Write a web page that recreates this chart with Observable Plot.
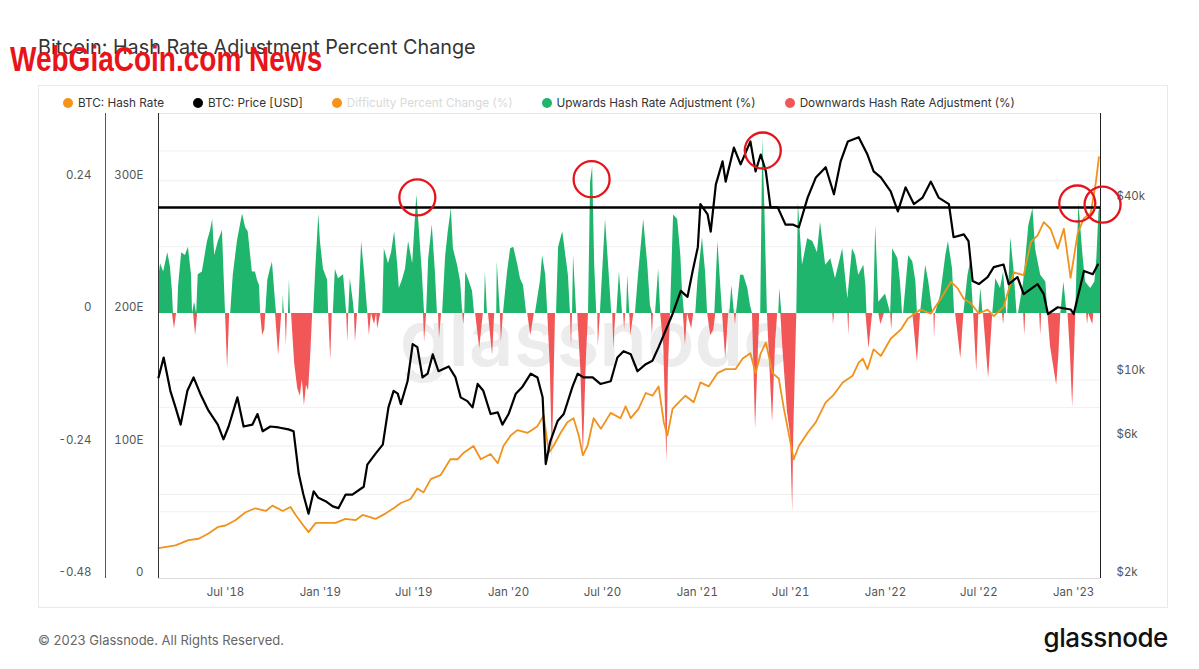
<!DOCTYPE html>
<html><head><meta charset="utf-8">
<script src="https://cdn.jsdelivr.net/npm/d3@7"></script>
<script src="https://cdn.jsdelivr.net/npm/@observablehq/plot@0.6"></script>
<style>
body{margin:0;background:#fff;font-family:Inter,"Noto Sans",sans-serif;}
#page{position:relative;width:1199px;height:669px;overflow:hidden;background:#fff;}
#card{position:absolute;left:38px;top:85px;width:1130px;height:523px;border:1px solid #e9e9e9;box-sizing:border-box;}
#title{position:absolute;left:38px;top:35px;font-size:19.8px;color:#333;white-space:nowrap;}
#stamp{position:absolute;left:10px;top:39px;font-family:"Liberation Sans","DejaVu Sans",sans-serif;font-weight:700;font-size:35px;color:#e8141a;white-space:nowrap;transform:scaleX(0.8);transform-origin:0 0;}
#legend{position:absolute;left:63px;top:96px;display:flex;gap:29px;font-size:11.75px;color:#333;white-space:nowrap;}
#legend .it{display:flex;align-items:center;gap:5px;}
#legend .dot{width:10px;height:10px;border-radius:50%;display:inline-block;}
#layers{position:absolute;left:0;top:0;width:1199px;height:669px;}
#layers svg{position:absolute;left:0;top:0;}
#copy{position:absolute;left:38px;top:632px;font-size:13px;color:#666;white-space:nowrap;}
#logo{position:absolute;right:31px;top:622px;font-size:26px;font-weight:500;color:#111;letter-spacing:-0.4px;}
</style></head><body>
<div id="page">
  <div id="card"></div>
  <div id="layers"></div>
  <div id="title">Bitcoin: Hash Rate Adjustment Percent Change</div>
  <div id="stamp">WebGiaCoin.com News</div>
  <div id="legend"></div>
  <div id="copy">© 2023 Glassnode. All Rights Reserved.</div>
  <div id="logo">glassnode</div>
</div>
<script>
// ---------- legend ----------
const legendLabels = ["BTC: Hash Rate","BTC: Price [USD]","Difficulty Percent Change (%)","Upwards Hash Rate Adjustment (%)","Downwards Hash Rate Adjustment (%)"];
const legendColors = ["#f7931a","#000000","#f7931a","#1fb56c","#f25757"];
const legendTextColors = ["#333","#333","#d9d9d9","#333","#333"];

// ---------- axes ----------
const xTicks = ["2018-07-01","2019-01-01","2019-07-01","2020-01-01","2020-07-01","2021-01-01","2021-07-01","2022-01-01","2022-07-01","2023-01-01"];
const pctTicks = [0.24, 0, -0.24, -0.48];
const hashTicks = [300, 200, 100, 0];
const priceTicks = [40000, 10000, 6000, 2000];
const pctGrid = [0.24, -0.24];
const priceGrid = [60000, 28000, 9700, 7800, 3900, 3400];

// ---------- annotations ----------
const thresholdPct = [0.192];
const circleMarks = [["2019-07-08",0.21],["2020-06-10",0.243],["2021-05-08",0.295],["2023-01-08",0.199],["2023-02-26",0.197]];

// ---------- BTC price [USD] ----------
const priceSeries = [
["2018-02-21",9900],["2018-03-03",11600],["2018-03-16",8900],["2018-03-26",7800],["2018-04-05",6800],["2018-04-18",8900],["2018-04-30",9900],["2018-05-13",8700],["2018-05-29",7600],["2018-06-16",6800],["2018-06-27",6050],
["2018-07-07",6700],["2018-07-24",8450],["2018-08-05",6700],["2018-08-22",6800],["2018-09-01",7400],["2018-09-11",6450],["2018-09-26",6700],["2018-10-12",6650],["2018-10-31",6550],["2018-11-10",6450],["2018-11-20",4600],["2018-11-29",3900],["2018-12-09",3350],["2018-12-19",4000],["2018-12-28",3800],
["2019-01-11",3700],["2019-01-25",3550],["2019-02-05",3500],["2019-02-19",3900],["2019-03-04",3900],["2019-03-26",4150],["2019-04-02",4950],["2019-04-18",5400],["2019-05-02",5800],["2019-05-13",7800],["2019-05-23",8900],["2019-05-31",8700],["2019-06-06",8000],["2019-06-19",9600],["2019-06-29",12900],
["2019-07-08",12600],["2019-07-18",9900],["2019-07-28",10200],["2019-08-07",11900],["2019-08-18",10400],["2019-09-07",10800],["2019-09-20",9900],["2019-09-30",8450],["2019-10-13",8200],["2019-10-23",7800],["2019-11-02",9400],["2019-11-13",8900],["2019-11-27",7400],["2019-12-11",7500],["2019-12-20",6800],
["2020-01-01",7400],["2020-01-15",8700],["2020-01-28",9200],["2020-02-13",10200],["2020-02-26",9900],["2020-03-07",8450],["2020-03-13",4970],["2020-03-22",5970],["2020-04-05",7000],["2020-04-17",7400],["2020-05-04",9200],["2020-05-14",10200],["2020-05-25",9900],["2020-06-12",9900],["2020-06-27",9400],
["2020-07-17",9600],["2020-07-30",11600],["2020-08-11",12200],["2020-08-25",11900],["2020-09-07",10400],["2020-09-23",11000],["2020-10-06",11300],["2020-10-18",12600],["2020-11-14",16400],["2020-11-30",19700],["2020-12-13",18800],["2020-12-23",23100],
["2021-01-02",27900],["2021-01-07",39300],["2021-01-21",36200],["2021-01-27",31600],["2021-02-06",46000],["2021-02-19",55200],["2021-02-25",47000],["2021-03-13",61600],["2021-03-26",53900],["2021-04-14",64700],["2021-04-24",51000],["2021-05-04",58300],["2021-05-14",51000],["2021-05-23",38300],["2021-06-06",38300],["2021-06-21",33400],
["2021-07-05",33400],["2021-07-17",32700],["2021-08-03",41400],["2021-08-19",48600],["2021-09-07",52700],["2021-09-23",42500],["2021-10-06",55200],["2021-10-20",64700],["2021-11-10",66900],["2021-11-27",58300],["2021-12-09",51000],["2021-12-23",48600],
["2022-01-11",43500],["2022-01-25",37100],["2022-02-09",44900],["2022-02-25",39300],["2022-03-14",41400],["2022-03-30",47000],["2022-04-14",41400],["2022-05-04",39300],["2022-05-13",30200],["2022-06-02",30900],["2022-06-11",29300],["2022-06-19",21300],
["2022-07-01",20800],["2022-07-18",22000],["2022-07-30",23800],["2022-08-18",24300],["2022-08-28",20800],["2022-09-14",22000],["2022-09-26",19200],["2022-10-23",20800],["2022-11-04",19200],["2022-11-12",16400],["2022-12-01",17300],["2022-12-26",17000],
["2023-01-01",16400],["2023-01-21",23100],["2023-02-07",22500],["2023-02-17",24300]
];

// ---------- BTC hash rate [EH/s] ----------
const hashSeries = [
["2018-02-21",23],["2018-03-26",25],["2018-04-20",29],["2018-05-10",30],["2018-05-29",34],["2018-06-17",39],["2018-07-01",40],["2018-07-20",44],["2018-08-09",50],["2018-08-28",53],["2018-09-17",51],["2018-09-30",55],["2018-10-20",51],["2018-11-04",54],["2018-11-14",48],["2018-11-29",40],["2018-12-09",35],["2018-12-23",42],
["2019-01-11",42],["2019-01-30",42],["2019-02-19",45],["2019-03-10",44],["2019-03-24",48],["2019-04-18",45],["2019-05-07",49],["2019-05-23",53],["2019-06-06",57],["2019-06-25",60],["2019-07-08",68],["2019-07-20",65],["2019-08-03",75],["2019-08-22",78],["2019-09-10",90],["2019-09-24",90],["2019-10-06",95],["2019-10-25",100],["2019-11-08",90],["2019-11-27",94],["2019-12-11",87],["2019-12-22",100],
["2020-01-05",108],["2020-01-18",112],["2020-02-07",110],["2020-02-26",115],["2020-03-09",123],["2020-03-19",95],["2020-03-28",100],["2020-04-11",110],["2020-04-24",118],["2020-05-06",121],["2020-05-16",108],["2020-05-24",93],["2020-06-02",100],["2020-06-14",121],["2020-06-28",113],["2020-07-17",125],["2020-08-05",121],["2020-08-15",130],["2020-08-25",121],["2020-09-09",128],["2020-09-23",140],["2020-10-06",138],["2020-10-18",145],["2020-10-28",118],["2020-11-04",108],["2020-11-14",128],["2020-11-26",133],["2020-12-09",138],["2020-12-25",133],
["2021-01-07",148],["2021-01-23",145],["2021-02-09",155],["2021-02-25",158],["2021-03-16",158],["2021-03-30",166],["2021-04-14",170],["2021-04-24",155],["2021-05-04",170],["2021-05-14",178],["2021-05-27",155],["2021-06-08",151],["2021-06-18",128],["2021-07-01",102],["2021-07-07",90],["2021-07-17",100],["2021-08-03",110],["2021-08-19",118],["2021-09-07",133],["2021-09-21",138],["2021-10-10",148],["2021-10-29",153],["2021-11-10",163],["2021-11-18",166],["2021-11-27",158],["2021-12-09",173],["2021-12-23",168],
["2022-01-11",181],["2022-01-31",188],["2022-02-13",196],["2022-03-10",203],["2022-03-30",200],["2022-04-18",211],["2022-05-08",224],["2022-05-21",219],["2022-06-02",211],["2022-06-15",208],["2022-07-01",200],["2022-07-18",203],["2022-07-30",198],["2022-08-18",205],["2022-09-07",231],["2022-09-26",229],["2022-10-10",254],["2022-10-23",259],["2022-11-04",269],["2022-11-17",264],["2022-12-01",249],["2022-12-13",264],["2022-12-26",227],
["2023-01-09",261],["2023-01-21",272],["2023-02-03",276],["2023-02-13",299],["2023-02-19",318]
];

// ---------- Upwards hash rate adjustment (%) ----------
const upAdj = [
["2018-02-21",0.06],["2018-02-25",0.09],["2018-03-03",0.075],["2018-03-11",0.11],["2018-03-16",0.085],["2018-03-20",0.04],["2018-03-22",0],
["2018-03-30",0],["2018-04-01",0.05],["2018-04-07",0.11],["2018-04-14",0.105],["2018-04-20",0.12],["2018-04-26",0.07],["2018-04-28",0],
["2018-05-02",0.02],["2018-05-06",0],
["2018-05-09",0.07],["2018-05-17",0.075],["2018-05-27",0.13],["2018-06-02",0.15],["2018-06-06",0.17],["2018-06-10",0.105],["2018-06-17",0.13],["2018-06-25",0.15],["2018-06-27",0.1],["2018-07-01",0],
["2018-07-11",0],["2018-07-16",0.069],["2018-07-24",0.13],["2018-07-30",0.16],["2018-08-03",0.18],["2018-08-09",0.155],["2018-08-14",0.148],["2018-08-22",0.075],["2018-08-28",0.075],["2018-09-01",0.06],["2018-09-05",0.05],["2018-09-07",0],
["2018-09-17",0],["2018-09-21",0.06],["2018-09-26",0.08],["2018-09-30",0.093],["2018-10-06",0.02],["2018-10-08",0],
["2018-10-20",0],["2018-10-21",0.033],["2018-10-23",0],
["2018-10-31",0],["2018-11-02",0.063],["2018-11-04",0],
["2018-12-19",0],["2018-12-23",0.08],["2018-12-29",0.18],["2019-01-01",0.13],["2019-01-07",0.08],["2019-01-15",0.06],["2019-01-17",0],
["2019-01-26",0],["2019-01-30",0.08],["2019-02-05",0.063],["2019-02-15",0.07],["2019-02-21",0],
["2019-02-25",0],["2019-02-28",0.063],["2019-03-06",0.02],["2019-03-08",0],
["2019-03-16",0],["2019-03-22",0.13],["2019-03-28",0.07],["2019-04-03",0],
["2019-05-02",0],["2019-05-05",0.117],["2019-05-13",0.09],["2019-05-19",0.11],["2019-05-25",0.148],["2019-05-31",0.087],["2019-06-03",0.045],["2019-06-09",0.06],["2019-06-15",0.08],["2019-06-21",0.13],["2019-06-29",0.09],["2019-07-07",0.214],["2019-07-10",0.178],["2019-07-18",0.069],["2019-07-22",0],
["2019-07-26",0],["2019-07-30",0.099],["2019-08-06",0.16],["2019-08-12",0.075],["2019-08-16",0],
["2019-08-26",0],["2019-09-01",0.105],["2019-09-06",0.148],["2019-09-12",0.19],["2019-09-16",0.117],["2019-09-24",0.087],["2019-09-30",0.057],["2019-10-04",0],
["2019-10-08",0],["2019-10-10",0.075],["2019-10-15",0.063],["2019-10-23",0.04],["2019-10-27",0],
["2019-11-15",0],["2019-11-17",0.075],["2019-11-21",0],
["2019-12-09",0],["2019-12-10",0.093],["2019-12-16",0],
["2019-12-22",0],["2019-12-30",0.075],["2020-01-05",0.117],["2020-01-11",0.12],["2020-01-19",0.087],["2020-01-24",0.063],["2020-01-30",0.05],["2020-02-05",0],
["2020-02-22",0],["2020-03-03",0.06],["2020-03-07",0.105],["2020-03-13",0.069],["2020-03-17",0],
["2020-04-03",0],["2020-04-07",0.12],["2020-04-15",0.148],["2020-04-21",0.105],["2020-04-26",0.069],["2020-04-30",0],
["2020-05-04",0],["2020-05-06",0.105],["2020-05-12",0],
["2020-06-04",0],["2020-06-08",0.237],["2020-06-12",0.265],["2020-06-16",0.087],["2020-06-20",0],
["2020-06-27",0],["2020-07-07",0.17],["2020-07-13",0.087],["2020-07-19",0],
["2020-07-29",0],["2020-08-03",0.075],["2020-08-09",0],
["2020-08-17",0],["2020-08-19",0.069],["2020-08-23",0],
["2020-09-03",0],["2020-09-09",0.069],["2020-09-19",0.17],["2020-09-27",0.087],["2020-10-02",0.015],["2020-10-06",0],
["2020-10-12",0],["2020-10-18",0.081],["2020-10-22",0],
["2020-11-10",0],["2020-11-16",0.178],["2020-11-24",0.17],["2020-11-30",0.105],["2020-12-03",0.045],["2020-12-07",0],
["2020-12-29",0],["2021-01-02",0.057],["2021-01-11",0.137],["2021-01-17",0.075],["2021-01-21",0],
["2021-02-04",0],["2021-02-10",0.13],["2021-02-15",0.057],["2021-02-19",0],
["2021-03-05",0],["2021-03-09",0.05],["2021-03-14",0],
["2021-03-18",0],["2021-03-26",0.069],["2021-04-01",0.069],["2021-04-09",0.045],["2021-04-14",0.015],["2021-04-18",0],
["2021-05-04",0],["2021-05-08",0.317],["2021-05-12",0.19],["2021-05-17",0],
["2021-06-08",0],["2021-06-10",0.045],["2021-06-14",0],
["2021-07-13",0],["2021-07-16",0.2],["2021-07-24",0.087],["2021-08-03",0.135],["2021-08-13",0.13],["2021-08-22",0.11],["2021-08-28",0.165],["2021-09-07",0.087],["2021-09-17",0.099],["2021-09-26",0.063],["2021-10-10",0.117],["2021-10-20",0.026],["2021-10-29",0.117],["2021-11-04",0.105],["2021-11-10",0.069],["2021-11-20",0.087],["2021-11-24",0.05],["2021-11-26",0],
["2021-12-09",0],["2021-12-13",0.159],["2021-12-19",0.02],["2022-01-01",0.035],["2022-01-11",0],
["2022-01-15",0.117],["2022-01-25",0.099],["2022-01-30",0.057],["2022-02-03",0],
["2022-02-05",0],["2022-02-15",0.105],["2022-02-23",0.093],["2022-03-01",0.057],["2022-03-04",0],
["2022-03-10",0],["2022-03-20",0.087],["2022-03-26",0.057],["2022-04-03",0],
["2022-04-08",0],["2022-04-18",0.033],["2022-04-28",0.105],["2022-05-03",0.13],["2022-05-11",0.081],["2022-05-15",0],
["2022-06-02",0],["2022-06-10",0.069],["2022-06-15",0.093],["2022-06-21",0],
["2022-07-01",0],["2022-07-05",0.045],["2022-07-09",0],
["2022-07-28",0],["2022-08-03",0.063],["2022-08-12",0.045],["2022-08-18",0.075],["2022-08-24",0],
["2022-08-26",0],["2022-09-01",0.137],["2022-09-07",0.081],["2022-09-13",0],
["2022-09-16",0],["2022-09-26",0.057],["2022-10-06",0.159],["2022-10-14",0.19],["2022-10-19",0.117],["2022-10-29",0.069],["2022-11-08",0.057],["2022-11-12",0],
["2022-12-07",0],["2022-12-13",0.057],["2022-12-19",0],
["2023-01-05",0],["2023-01-11",0.2],["2023-01-19",0.105],["2023-01-24",0.057],["2023-02-03",0.045],["2023-02-11",0.057],["2023-02-15",0.1],["2023-02-19",0.183],["2023-02-22",0.196]
];

// ---------- Downwards hash rate adjustment (%) ----------
const downAdj = [
["2018-03-20",0],["2018-03-24",-0.028],["2018-03-28",0],
["2018-04-30",0],["2018-05-04",-0.04],["2018-05-08",0],
["2018-07-01",0],["2018-07-05",-0.10],["2018-07-09",0],
["2018-09-07",0],["2018-09-11",-0.04],["2018-09-15",-0.03],["2018-09-17",0],
["2018-10-06",0],["2018-10-12",-0.076],["2018-10-18",0],
["2018-10-25",0],["2018-10-27",-0.058],["2018-10-29",0],
["2018-11-06",0],["2018-11-12",-0.09],["2018-11-18",-0.136],["2018-11-23",-0.15],["2018-11-27",-0.12],["2018-12-01",-0.167],["2018-12-05",-0.13],["2018-12-09",-0.14],["2018-12-13",-0.08],["2018-12-17",0],
["2019-01-17",0],["2019-01-21",-0.085],["2019-01-24",0],
["2019-02-21",0],["2019-02-23",-0.052],["2019-02-25",0],
["2019-03-08",0],["2019-03-10",-0.052],["2019-03-14",0],
["2019-04-03",0],["2019-04-06",-0.04],["2019-04-10",0],["2019-04-16",-0.02],["2019-04-20",0],["2019-04-22",-0.028],["2019-04-28",0],
["2019-07-20",0],["2019-07-22",-0.052],["2019-07-26",0],
["2019-08-18",0],["2019-08-20",-0.046],["2019-08-24",0],
["2019-10-04",0],["2019-10-06",-0.02],["2019-10-08",0],
["2019-10-29",0],["2019-11-06",-0.064],["2019-11-13",0],
["2019-11-23",0],["2019-12-01",-0.076],["2019-12-05",0],
["2019-12-16",0],["2019-12-18",-0.052],["2019-12-22",0],
["2020-02-07",0],["2020-02-13",-0.04],["2020-02-20",0],
["2020-03-17",0],["2020-03-22",-0.10],["2020-03-26",-0.263],["2020-04-01",0],
["2020-04-30",0],["2020-05-02",-0.06],["2020-05-04",0],
["2020-05-14",0],["2020-05-20",-0.10],["2020-05-25",-0.258],["2020-05-31",-0.08],["2020-06-04",0],
["2020-06-22",0],["2020-06-23",-0.06],["2020-06-27",0],
["2020-07-21",0],["2020-07-23",-0.064],["2020-07-27",0],
["2020-08-11",0],["2020-08-13",-0.03],["2020-08-15",0],
["2020-08-23",0],["2020-08-25",-0.04],["2020-08-31",0],
["2020-10-04",0],["2020-10-06",-0.04],["2020-10-08",0],
["2020-10-22",0],["2020-10-28",-0.06],["2020-11-03",-0.27],["2020-11-06",-0.10],["2020-11-10",0],
["2020-12-05",0],["2020-12-09",-0.058],["2020-12-13",0],["2020-12-21",-0.028],["2020-12-25",0],
["2021-01-21",0],["2021-01-27",-0.04],["2021-02-02",-0.03],["2021-02-06",0],
["2021-02-19",0],["2021-02-25",-0.082],["2021-03-03",0],
["2021-03-14",0],["2021-03-16",-0.02],["2021-03-18",0],
["2021-04-18",0],["2021-04-24",-0.209],["2021-05-02",0],
["2021-05-17",0],["2021-05-23",-0.12],["2021-05-27",-0.197],["2021-06-02",-0.05],["2021-06-06",0],
["2021-06-12",0],["2021-06-16",-0.064],["2021-06-25",-0.18],["2021-07-01",-0.22],["2021-07-05",-0.36],["2021-07-07",-0.22],["2021-07-13",0],
["2021-09-21",0],["2021-09-22",-0.02],["2021-09-24",0],
["2021-10-20",0],["2021-10-22",-0.04],["2021-10-23",0],
["2021-11-24",0],["2021-11-30",-0.064],["2021-12-07",0],
["2021-12-19",0],["2021-12-23",-0.02],["2021-12-30",0],
["2022-01-11",0],["2022-01-13",-0.03],["2022-01-15",0],
["2022-02-23",0],["2022-03-04",-0.088],["2022-03-10",0],
["2022-04-05",0],["2022-04-06",-0.046],["2022-04-08",0],
["2022-05-17",0],["2022-05-27",-0.082],["2022-06-02",0],
["2022-06-21",0],["2022-06-27",-0.106],["2022-07-01",0],
["2022-07-10",0],["2022-07-20",-0.118],["2022-07-28",0],
["2022-08-16",0],["2022-08-18",-0.02],["2022-08-20",0],
["2022-09-26",0],["2022-09-28",-0.04],["2022-09-30",0],
["2022-10-27",0],["2022-10-29",-0.04],["2022-10-31",0],
["2022-11-12",0],["2022-11-17",-0.06],["2022-11-29",-0.13],["2022-12-03",-0.08],["2022-12-07",0],
["2022-12-21",0],["2022-12-26",-0.08],["2022-12-30",-0.17],["2023-01-03",-0.06],["2023-01-05",0],
["2023-01-26",0],["2023-01-28",-0.02],["2023-01-30",0],["2023-02-07",-0.02],["2023-02-09",0]
];

// ---------- build ----------
const legend = document.getElementById("legend");
legendLabels.forEach((lab, i) => {
  const it = document.createElement("div"); it.className = "it";
  const dot = document.createElement("span"); dot.className = "dot"; dot.style.background = legendColors[i];
  const t = document.createElement("span"); t.textContent = lab; t.style.color = legendTextColors[i];
  it.append(dot, t); legend.append(it);
});

const toRows = arr => arr.map(([d, v]) => ({date: new Date(d), v}));
const price = toRows(priceSeries), hash = toRows(hashSeries), up = toRows(upAdj), down = toRows(downAdj);
const circles = toRows(circleMarks);
const xDomain = [new Date("2018-02-21"), new Date("2023-02-22")];
const pctDomain = [-0.48, 0.362];
const hashDomain = [0, 351];
const priceDomain = [2000, 80800];
const fmtX = d3.utcFormat("%b '%y");

const base = {
  width: 1199, height: 669, marginTop: 113, marginBottom: 91, marginLeft: 158, marginRight: 99,
  style: {background: "transparent", fontFamily: "Inter, 'Noto Sans', sans-serif", fontSize: "11.5px", color: "#555", overflow: "visible"}
};
const xOpt = {type: "utc", domain: xDomain, axis: null};

// layer 0: grid + watermark + x axis
const L0 = Plot.plot({...base, x: xOpt, y: {domain: pctDomain, axis: null}, marks: [
  Plot.ruleY(pctGrid, {stroke: "#eeeeee"}),
  Plot.ruleY([pctDomain[1]], {stroke: "#e8e8e8"}),
  Plot.ruleY([pctDomain[0]], {stroke: "#dcdcdc"}),
  Plot.text(["glassnode"], {text: d => d, frameAnchor: "middle", dx: -35, dy: -5, fontSize: 78, fontWeight: 600, fill: "#ececec"}),
  Plot.axisX(xTicks.map(d => new Date(d)), {tickSize: 0, tickPadding: 9, tickFormat: fmtX, color: "#555", label: null})
]});

// layer 1: price grid
const L1 = Plot.plot({...base, x: xOpt, y: {type: "log", domain: priceDomain, axis: null}, marks: [
  Plot.ruleY(priceGrid, {stroke: "#f0f0f0"})
]});

// layer 2: adjustment areas + percent axis
const L2 = Plot.plot({...base, x: xOpt, y: {domain: pctDomain, axis: null}, marks: [
  Plot.areaY(up, {x: "date", y: "v", fill: "#1fb56c"}),
  Plot.areaY(down, {x: "date", y: "v", fill: "#f25757"}),
  Plot.ruleX([xDomain[0]], {dx: -53, stroke: "#555"}),
  Plot.axisY(pctTicks, {anchor: "left", tickSize: 0, tickPadding: 14, dx: -53, dy: -6, color: "#555", label: null,
    tickFormat: d => d === 0 ? "0" : String(d)})
]});

// layer 3: hash rate
const L3 = Plot.plot({...base, x: xOpt, y: {domain: hashDomain, axis: null}, marks: [
  Plot.line(hash, {x: "date", y: "v", stroke: "#f0921c", strokeWidth: 1.8}),
  Plot.ruleX([xDomain[0]], {stroke: "#333"}),
  Plot.axisY(hashTicks, {anchor: "left", tickSize: 0, tickPadding: 15, dy: -6, color: "#555", label: null,
    tickFormat: d => d === 0 ? "0" : d + "E"})
]});

// layer 4: price
const L4 = Plot.plot({...base, x: xOpt, y: {type: "log", domain: priceDomain, axis: null}, marks: [
  Plot.line(price, {x: "date", y: "v", stroke: "#000", strokeWidth: 2.2}),
  Plot.ruleX([xDomain[1]], {stroke: "#222"}),
  Plot.axisY(priceTicks, {anchor: "right", tickSize: 0, tickPadding: 16, dy: -6, color: "#555", label: null,
    tickFormat: d => "$" + (d / 1000) + "k"})
]});

// layer 5: annotations
const L5 = Plot.plot({...base, x: xOpt, y: {domain: pctDomain, axis: null}, marks: [
  Plot.ruleY(thresholdPct, {stroke: "#000", strokeWidth: 2.5}),
  Plot.dot(circles, {x: "date", y: "v", r: 18, stroke: "#e3141b", strokeWidth: 2.3, fill: "none"})
]});

const layers = document.getElementById("layers");
[L0, L1, L2, L3, L4, L5].forEach(svg => layers.append(svg));
</script>
</body></html>
